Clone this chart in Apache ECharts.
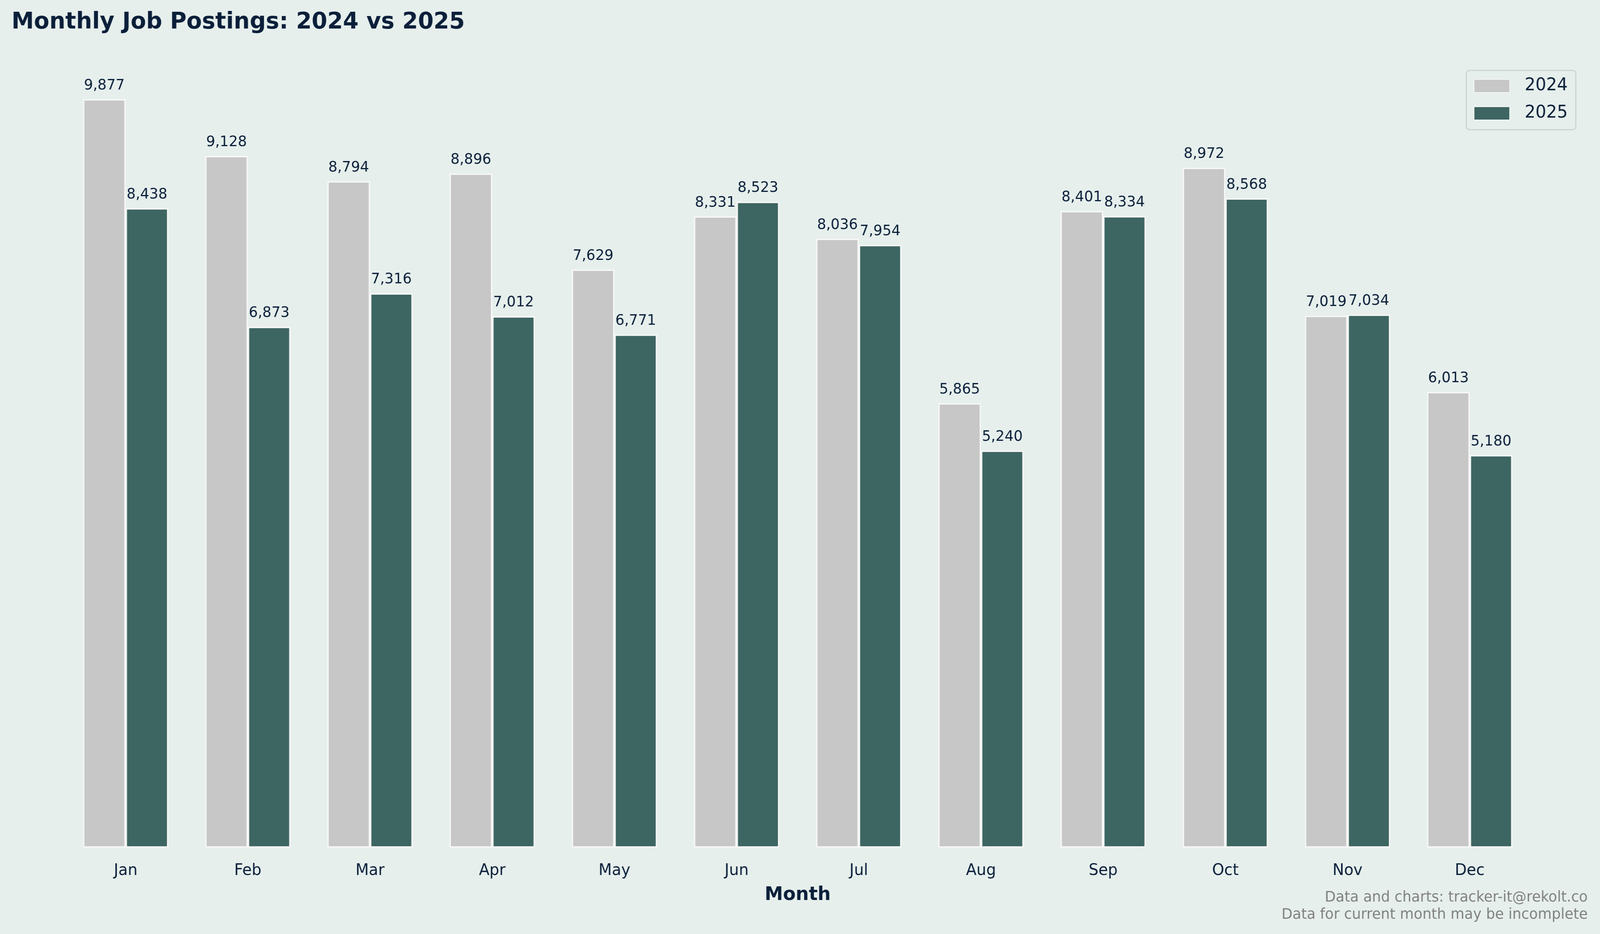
<!DOCTYPE html>
<html>
<head>
<meta charset="utf-8">
<script src="https://cdn.jsdelivr.net/npm/echarts@6/dist/echarts.min.js"></script>
<style>
html,body{margin:0;padding:0;background:#e6efec;overflow:hidden;}
#c{width:4164px;height:2390px;position:absolute;left:0;top:0;transform-origin:0 0;}
</style>
</head>
<body>
<div id="c"></div>
<script>
const months = ['Jan','Feb','Mar','Apr','May','Jun','Jul','Aug','Sep','Oct','Nov','Dec'];
const postings2024 = [9877, 9128, 8794, 8896, 7629, 8331, 8036, 5865, 8401, 8972, 7019, 6013];
const postings2025 = [8438, 6873, 7316, 7012, 6771, 8523, 7954, 5240, 8334, 8568, 7034, 5180];
const seriesNames = ['2024', '2025'];
const footerLines = ['Data and charts: tracker-it@rekolt.co', 'Data for current month may be incomplete'];

const navy = '#0b1f3a';
const font = 'DejaVu Sans';
const el = document.getElementById('c');
const sx = (window.innerWidth || 4164) / 4164;
const sy = (window.innerHeight || 2390) / 2390;
if (Math.abs(sx - 1) > 0.001 || Math.abs(sy - 1) > 0.001) {
  el.style.transform = 'scale(' + sx + ',' + sy + ')';
}
const chart = echarts.init(el, null, {renderer: 'canvas', width: 4164, height: 2390});

function labelCfg() {
  return {
    show: true, position: 'top', distance: 16,
    color: navy, fontFamily: font, fontSize: 37,
    formatter: p => p.value.toLocaleString('en-US')
  };
}

chart.setOption({
  backgroundColor: '#e6efec',
  animation: false,
  title: {
    text: 'Monthly Job Postings: 2024 vs 2025',
    left: 30, top: 28, padding: 0,
    textStyle: {color: navy, fontFamily: font, fontSize: 58.5, fontWeight: 'bold'}
  },
  legend: {
    orient: 'vertical',
    left: 3816, top: 180,
    padding: [18, 21, 20, 19],
    itemWidth: 93, itemHeight: 34, itemGap: 26,
    backgroundColor: '#e6efec',
    borderColor: '#d0d3d2', borderWidth: 3, borderRadius: 9,
    icon: 'rect',
    textStyle: {color: navy, fontFamily: font, fontSize: 44, padding: [0, 0, 0, 34]},
    data: seriesNames
  },
  grid: {left: 168, width: 3816, top: 158, bottom: 221, containLabel: false},
  xAxis: {
    type: 'category',
    data: months,
    boundaryGap: true,
    axisLine: {show: false},
    axisTick: {show: false},
    axisLabel: {color: navy, fontFamily: font, fontSize: 40, margin: 40},
    name: 'Month',
    nameLocation: 'middle',
    nameGap: 98,
    nameTextStyle: {color: navy, fontFamily: font, fontSize: 48, fontWeight: 'bold', verticalAlign: 'top'}
  },
  yAxis: {
    type: 'value', min: 0, max: 10371,
    show: false,
    splitLine: {show: false}
  },
  series: [
    {
      name: seriesNames[0], type: 'bar', data: postings2024,
      barWidth: 111, barGap: '0%',
      itemStyle: {color: '#c6c7c6', borderColor: '#f7f8f7', borderWidth: 3.5},
      label: labelCfg()
    },
    {
      name: seriesNames[1], type: 'bar', data: postings2025,
      barWidth: 111, barGap: '0%',
      itemStyle: {color: '#3d6561', borderColor: '#f7f8f7', borderWidth: 3.5},
      label: labelCfg()
    }
  ],
  graphic: footerLines.map((t, i) => ({
    type: 'text', right: 32, top: 2279 + i * 44,
    style: {text: t, fill: '#808080', font: '37px "DejaVu Sans"'}
  }))
});
</script>
</body>
</html>
